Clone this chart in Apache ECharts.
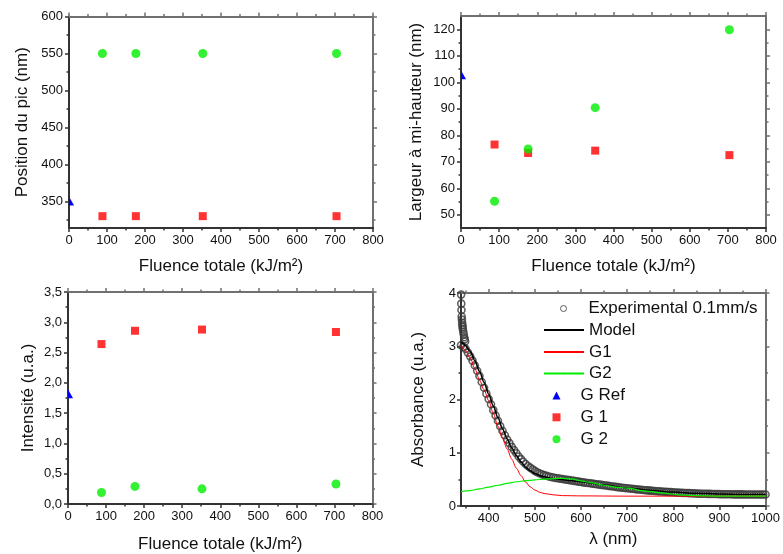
<!DOCTYPE html>
<html><head><meta charset="utf-8">
<script src="https://cdn.jsdelivr.net/npm/echarts@6/dist/echarts.min.js"></script>
<style>html,body{margin:0;padding:0;background:#fff}#c{width:783px;height:554px}</style>
</head><body><div id="c"></div>
<script>
// ---------- data ----------
const fluence = [88, 176, 352, 704];
const refFluence = [0];

const posG1 = [330, 330, 330, 330];
const posG2 = [550, 550, 550, 550];
const posRef = [350];

const widthG1 = [76.5, 73.3, 74.2, 72.5];
const widthG2 = [55.1, 74.8, 90.4, 119.8];
const widthRef = [102.6];

const intG1 = [2.64, 2.86, 2.88, 2.84];
const intG2 = [0.19, 0.29, 0.25, 0.33];
const intRef = [1.81];

// experimental spectrum (noisy start + band)
const expLambda = [340.3, 340.6, 341, 341.5, 342, 342.5, 343, 343.5, 344, 345, 346, 347, 348, 349,
  340, 345, 350, 355, 360, 365, 370, 375, 380, 385, 390, 395, 400, 405, 410, 415, 420, 425, 430, 435,
  440, 445, 450, 455, 460, 465, 470, 475, 480, 485, 490, 495, 500, 505, 510, 515, 520, 525, 530, 535,
  540, 545, 550, 555, 560, 565, 570, 575, 580, 585, 590, 595, 600, 605, 610, 615, 620, 625, 630, 635,
  640, 645, 650, 655, 660, 665, 670, 675, 680, 685, 690, 695, 700, 705, 710, 715, 720, 725, 730, 735,
  740, 745, 750, 755, 760, 765, 770, 775, 780, 785, 790, 795, 800, 805, 810, 815, 820, 825, 830, 835,
  840, 845, 850, 855, 860, 865, 870, 875, 880, 885, 890, 895, 900, 905, 910, 915, 920, 925, 930, 935,
  940, 945, 950, 955, 960, 965, 970, 975, 980, 985, 990, 995, 1000];
const expAbs = [3.97, 3.80, 3.68, 3.56, 3.50, 3.44, 3.40, 3.36, 3.32, 3.27, 3.22, 3.17, 3.13, 3.09,
  3.02, 2.99, 2.95, 2.88, 2.81, 2.73, 2.64, 2.54, 2.44, 2.33, 2.22, 2.11, 2.01, 1.91, 1.80, 1.70, 1.60, 1.50, 1.41, 1.33,
  1.25, 1.18, 1.11, 1.05, 0.99, 0.93, 0.88, 0.83, 0.79, 0.75, 0.72, 0.69, 0.66, 0.635, 0.615, 0.595, 0.58, 0.567, 0.555, 0.545,
  0.535, 0.527, 0.52, 0.513, 0.506, 0.499, 0.492, 0.485, 0.478, 0.471, 0.464, 0.457, 0.45, 0.444, 0.438, 0.432, 0.426, 0.42, 0.414, 0.408,
  0.402, 0.396, 0.39, 0.384, 0.378, 0.372, 0.366, 0.36, 0.354, 0.348, 0.343, 0.338, 0.333, 0.328, 0.323, 0.318, 0.313, 0.309, 0.305, 0.301,
  0.297, 0.293, 0.289, 0.285, 0.281, 0.278, 0.275, 0.272, 0.269, 0.266, 0.263, 0.26, 0.257, 0.254, 0.251, 0.249, 0.247, 0.245, 0.243, 0.241,
  0.239, 0.237, 0.235, 0.233, 0.231, 0.23, 0.229, 0.228, 0.227, 0.226, 0.225, 0.224, 0.223, 0.222, 0.221, 0.221, 0.22, 0.22, 0.219, 0.219,
  0.218, 0.218, 0.218, 0.217, 0.217, 0.217, 0.216, 0.216, 0.216, 0.215, 0.215, 0.215, 0.215];

const modelLambda = [340, 345, 350, 360, 370, 380, 390, 400, 410, 420, 430, 440, 450, 460, 470, 480, 490, 500, 510, 520, 540, 560, 580, 600, 650, 700, 750, 800, 850, 900, 950, 1000];
const modelAbs    = [3.08, 3.05, 3.01, 2.90, 2.73, 2.53, 2.32, 2.10, 1.88, 1.66, 1.45, 1.26, 1.09, 0.95, 0.83, 0.73, 0.66, 0.61, 0.575, 0.55, 0.515, 0.495, 0.475, 0.455, 0.395, 0.34, 0.295, 0.262, 0.24, 0.226, 0.218, 0.214];

const g1Lambda = [340, 350, 360, 370, 380, 390, 400, 410, 420, 430, 440, 450, 460, 470, 480, 490, 500, 510, 520, 540, 560, 600, 700, 800, 1000];
const g1Abs    = [3.02, 2.92, 2.78, 2.58, 2.37, 2.18, 1.98, 1.74, 1.50, 1.27, 1.07, 0.88, 0.71, 0.57, 0.45, 0.36, 0.30, 0.26, 0.235, 0.21, 0.195, 0.19, 0.185, 0.185, 0.185];

const g2Lambda = [340, 360, 380, 400, 420, 440, 460, 480, 500, 520, 540, 560, 580, 600, 620, 650, 680, 700, 740, 780, 810, 850, 900, 1000];
const g2Abs    = [0.27, 0.29, 0.32, 0.355, 0.39, 0.425, 0.455, 0.475, 0.49, 0.505, 0.515, 0.52, 0.51, 0.47, 0.44, 0.39, 0.35, 0.335, 0.28, 0.24, 0.21, 0.195, 0.185, 0.185];

// ticks
const fluenceTicks = [0, 100, 200, 300, 400, 500, 600, 700, 800];
const fluenceMinor = [50, 150, 250, 350, 450, 550, 650, 750];
const posTicks = [350, 400, 450, 500, 550, 600];
const posMinor = [325, 375, 425, 475, 525, 575];
const widthTicks = [50, 60, 70, 80, 90, 100, 110, 120];
const widthMinor = [55, 65, 75, 85, 95, 105, 115];
const intTicks = [0, 0.5, 1, 1.5, 2, 2.5, 3, 3.5];
const intMinor = [0.25, 0.75, 1.25, 1.75, 2.25, 2.75, 3.25];
const lambdaTicks = [400, 500, 600, 700, 800, 900, 1000];
const lambdaMinor = [350, 450, 550, 650, 750, 850, 950];
const absTicks = [0, 1, 2, 3, 4];
const absMinor = [0.5, 1.5, 2.5, 3.5];

// ---------- chart ----------
const FONT = '"Liberation Sans", Arial, sans-serif';
const DARK = '#333', LIGHT = '#707070';
const RED = '#ff0000', GREEN = '#00ee00', BLUE = '#0000ff';

function axesFor(dim, grid, cfg) {
  const isX = dim === 'x';
  const posMain = isX ? 'bottom' : 'left';
  const posOpp = isX ? 'top' : 'right';
  const base = { type: 'value', gridIndex: grid, min: cfg.min, max: cfg.max,
    splitLine: { show: false }, minorTick: { show: false }, minorSplitLine: { show: false } };
  const main = Object.assign({}, base, {
    position: posMain,
    name: cfg.name, nameLocation: 'middle', nameGap: cfg.nameGap,
    nameTextStyle: { fontFamily: FONT, fontSize: 17, color: '#111' },
    axisLine: { show: true, onZero: false, lineStyle: { color: DARK, width: 2 } },
    axisTick: { show: true, inside: false, length: 4, customValues: cfg.major, lineStyle: { color: DARK, width: 1.5 } },
    axisLabel: { show: true, customValues: cfg.major, margin: cfg.labelMargin, fontFamily: FONT, fontSize: 13, color: '#111', formatter: cfg.fmt }
  });
  const mainMinor = Object.assign({}, base, {
    position: posMain,
    axisLine: { show: false, onZero: false },
    axisTick: { show: true, inside: false, length: 2.5, customValues: cfg.minor, lineStyle: { color: DARK, width: 1.5 } },
    axisLabel: { show: false }
  });
  const opp = Object.assign({}, base, {
    position: posOpp,
    axisLine: { show: true, onZero: false, lineStyle: { color: LIGHT, width: 2 } },
    axisTick: { show: true, inside: false, length: 4, customValues: cfg.major, lineStyle: { color: LIGHT, width: 1.5 } },
    axisLabel: { show: false }
  });
  const oppMinor = Object.assign({}, base, {
    position: posOpp,
    axisLine: { show: false, onZero: false },
    axisTick: { show: true, inside: false, length: 2.5, customValues: cfg.minor, lineStyle: { color: LIGHT, width: 1.5 } },
    axisLabel: { show: false }
  });
  return [main, mainMinor, opp, oppMinor];
}

const comma = v => v.toFixed(1).replace('.', ',');
const plain = v => String(v);

const grids = [
  { left: 69, top: 16.5, width: 304, height: 211.5 },
  { left: 461, top: 16, width: 305, height: 212 },
  { left: 68, top: 292, width: 304.5, height: 212 },
  { left: 461, top: 293, width: 308, height: 213 }
];

const xAxes = [].concat(
  axesFor('x', 0, { min: 0, max: 800, major: fluenceTicks, minor: fluenceMinor, fmt: plain, name: 'Fluence totale (kJ/m²)', nameGap: 30, labelMargin: 6 }),
  axesFor('x', 1, { min: 0, max: 800, major: fluenceTicks, minor: fluenceMinor, fmt: plain, name: 'Fluence totale (kJ/m²)', nameGap: 30, labelMargin: 6 }),
  axesFor('x', 2, { min: 0, max: 800, major: fluenceTicks, minor: fluenceMinor, fmt: plain, name: 'Fluence totale (kJ/m²)', nameGap: 32, labelMargin: 6 }),
  axesFor('x', 3, { min: 340, max: 1000, major: lambdaTicks, minor: lambdaMinor, fmt: plain, name: 'λ (nm)', nameGap: 25, labelMargin: 6 })
);
const yAxes = [].concat(
  axesFor('y', 0, { min: 314, max: 600, major: posTicks, minor: posMinor, fmt: plain, name: 'Position du pic (nm)', nameGap: 38, labelMargin: 6 }),
  axesFor('y', 1, { min: 45, max: 125, major: widthTicks, minor: widthMinor, fmt: plain, name: 'Largeur à mi-hauteur (nm)', nameGap: 36, labelMargin: 6 }),
  axesFor('y', 2, { min: 0, max: 3.5, major: intTicks, minor: intMinor, fmt: comma, name: 'Intensité (u.a.)', nameGap: 31, labelMargin: 6 }),
  axesFor('y', 3, { min: 0, max: 4, major: absTicks, minor: absMinor, fmt: plain, name: 'Absorbance (u.a.)', nameGap: 34, labelMargin: 5 })
);

const pairs = (xs, ys) => xs.map((x, i) => [x, ys[i]]);

function triangleSeries(g, xs, ys) {
  return {
    type: 'custom', name: 'G Ref', xAxisIndex: 4 * g, yAxisIndex: 4 * g, clip: true,
    itemStyle: { color: BLUE },
    encode: { x: 0, y: 1 },
    data: pairs(xs, ys),
    renderItem: function (params, api) {
      const p = api.coord([api.value(0), api.value(1)]);
      const h = 5;
      return { type: 'polygon', shape: { points: [[p[0], p[1] - h], [p[0] + h, p[1] + h * 0.8], [p[0] - h, p[1] + h * 0.8]] }, style: { fill: BLUE } };
    }
  };
}
function squareSeries(g, xs, ys) {
  return { type: 'scatter', name: 'G 1', xAxisIndex: 4 * g, yAxisIndex: 4 * g, symbol: 'rect', symbolSize: 8, itemStyle: { color: RED }, data: pairs(xs, ys) };
}
function circleSeries(g, xs, ys) {
  return { type: 'scatter', name: 'G 2', xAxisIndex: 4 * g, yAxisIndex: 4 * g, symbol: 'circle', symbolSize: 9, itemStyle: { color: GREEN }, data: pairs(xs, ys) };
}

const series = [
  squareSeries(0, fluence, posG1), circleSeries(0, fluence, posG2), triangleSeries(0, refFluence, posRef),
  squareSeries(1, fluence, widthG1), circleSeries(1, fluence, widthG2), triangleSeries(1, refFluence, widthRef),
  squareSeries(2, fluence, intG1), circleSeries(2, fluence, intG2), triangleSeries(2, refFluence, intRef),
  { type: 'scatter', name: 'Experimental 0.1mm/s', xAxisIndex: 12, yAxisIndex: 12, symbol: 'circle', symbolSize: 7,
    itemStyle: { color: 'rgba(0,0,0,0)', borderColor: '#3a3a3a', borderWidth: 1.6 }, data: pairs(expLambda, expAbs) },
  { type: 'line', name: 'Model', xAxisIndex: 12, yAxisIndex: 12, showSymbol: false, symbol: 'none', smooth: 0.3, smoothMonotone: 'x',
    lineStyle: { color: '#000', width: 1.5 }, itemStyle: { color: '#000' }, data: pairs(modelLambda, modelAbs) },
  { type: 'line', name: 'G1', xAxisIndex: 12, yAxisIndex: 12, showSymbol: false, symbol: 'none', smooth: 0.3, smoothMonotone: 'x',
    lineStyle: { color: RED, width: 1 }, itemStyle: { color: RED }, data: pairs(g1Lambda, g1Abs) },
  { type: 'line', name: 'G2', xAxisIndex: 12, yAxisIndex: 12, showSymbol: false, symbol: 'none', smooth: 0.3, smoothMonotone: 'x',
    lineStyle: { color: GREEN, width: 1.2 }, itemStyle: { color: GREEN }, data: pairs(g2Lambda, g2Abs) }
];

// legend helper: icon box of w×h at `left`, then text starting at textStart
function legendItem(item, left, centerY, w, h, textStart) {
  const pad = textStart - (left + w + 5);
  return { data: [item], left: left, top: centerY - 8.5, itemWidth: w, itemHeight: h, padding: 0, itemGap: 0,
    selectedMode: false, orient: 'vertical', lineStyle: { width: 2 },
    textStyle: { fontFamily: FONT, fontSize: 17, color: '#111', padding: [0, 0, 0, pad] } };
}

const legends = [
  legendItem({ name: 'Experimental 0.1mm/s', icon: 'circle', itemStyle: { color: 'rgba(0,0,0,0)', borderColor: '#3a3a3a', borderWidth: 1 } }, 560, 308.5, 6, 6, 588),
  legendItem({ name: 'Model' }, 543, 330, 40, 2, 588),
  legendItem({ name: 'G1' }, 543, 352, 40, 2, 588),
  legendItem({ name: 'G2' }, 543, 373.5, 40, 2, 588),
  legendItem({ name: 'G Ref', icon: 'triangle', itemStyle: { color: BLUE } }, 552.5, 395.5, 8, 8, 580.5),
  legendItem({ name: 'G 1', icon: 'rect' }, 552.5, 417.3, 8, 8, 580.5),
  legendItem({ name: 'G 2', icon: 'circle' }, 552.5, 439.3, 8, 8, 580.5)
];

const chart = echarts.init(document.getElementById('c'), null, { renderer: 'canvas' });
chart.setOption({
  animation: false,
  backgroundColor: '#fff',
  grid: grids,
  xAxis: xAxes,
  yAxis: yAxes,
  legend: legends,
  series: series
});
</script>
</body></html>
